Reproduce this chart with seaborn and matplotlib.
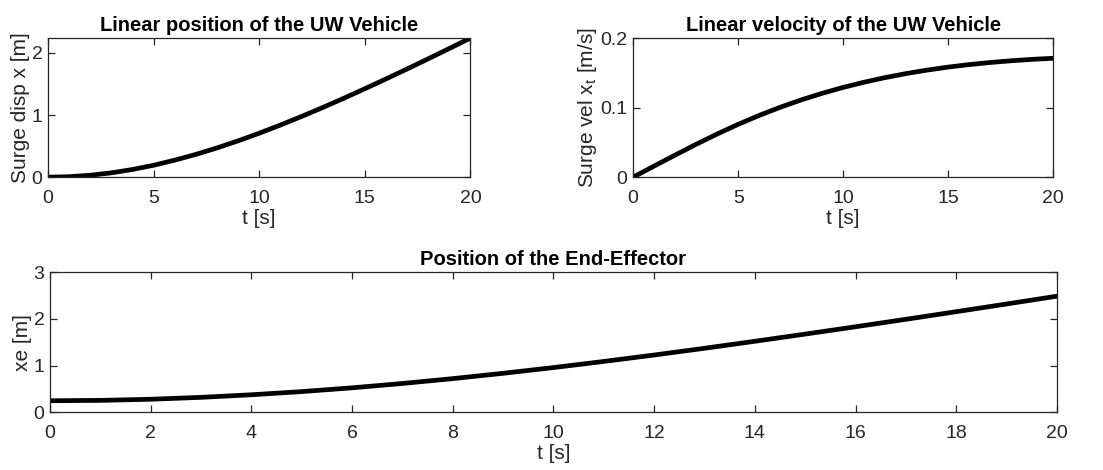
import numpy as np
import pandas as pd
import matplotlib
matplotlib.use("Agg")
import matplotlib.pyplot as plt
import seaborn as sns

# ---- data ----
t = [0, 1, 2, 3, 4, 5, 6, 7, 8, 9, 10, 11, 12, 13, 14, 15, 16, 17, 18, 19, 20]
surge_disp = [0, 0.008, 0.031, 0.070, 0.124, 0.192, 0.274, 0.367, 0.471, 0.585, 0.708,
              0.839, 0.977, 1.121, 1.270, 1.424, 1.582, 1.742, 1.906, 2.072, 2.240]
surge_vel = [0, 0.0160, 0.0318, 0.0473, 0.0621, 0.0760, 0.0888, 0.1005, 0.1111, 0.1206,
             0.1291, 0.1366, 0.1432, 0.1490, 0.1540, 0.1583, 0.1619, 0.1649, 0.1674,
             0.1694, 0.1710]
xe = [0.245, 0.253, 0.277, 0.318, 0.373, 0.441, 0.522, 0.615, 0.719, 0.833, 0.956,
      1.087, 1.225, 1.369, 1.519, 1.673, 1.830, 1.990, 2.153, 2.318, 2.485]

titles = ["Linear position of the UW Vehicle", "Linear velocity of the UW Vehicle",
          "Position of the End-Effector"]
ylabels = ["Surge disp x [m]", r"Surge vel x$_\mathregular{t}$ [m/s]", "xe [m]"]
xlabel = "t [s]"

sns.set_style("ticks")
plt.rcParams['font.family'] = ['Liberation Sans', 'DejaVu Sans']
plt.rcParams['mathtext.fontset'] = 'custom'
plt.rcParams['mathtext.rm'] = 'Liberation Sans'
plt.rcParams['mathtext.it'] = 'Liberation Sans'

ax_col = '#262626'
txt_col = '#262626'

fig = plt.figure(figsize=(11.03, 4.70), dpi=100)
ax1 = fig.add_axes([0.0435, 0.623, 0.383, 0.296])
ax2 = fig.add_axes([0.574, 0.623, 0.381, 0.296])
ax3 = fig.add_axes([0.0453, 0.123, 0.913, 0.298])

df = pd.DataFrame({"t": t, "x": surge_disp, "v": surge_vel, "xe": xe})

kw = dict(color="black", linewidth=3.4, solid_joinstyle='round', solid_capstyle='round')
sns.lineplot(data=df, x="t", y="x", ax=ax1, **kw)
sns.lineplot(data=df, x="t", y="v", ax=ax2, **kw)
sns.lineplot(data=df, x="t", y="xe", ax=ax3, **kw)

ax1.set_xlim(0, 20); ax1.set_ylim(0, 2.24)
ax1.set_xticks([0, 5, 10, 15, 20]); ax1.set_yticks([0, 1, 2])
ax2.set_xlim(0, 20); ax2.set_ylim(0, 0.2)
ax2.set_xticks([0, 5, 10, 15, 20]); ax2.set_yticks([0, 0.1, 0.2])
ax2.set_yticklabels(["0", "0.1", "0.2"])
ax3.set_xlim(0, 20); ax3.set_ylim(0, 3)
ax3.set_xticks(list(range(0, 21, 2))); ax3.set_yticks([0, 1, 2, 3])

for ax, ti, yl in zip([ax1, ax2, ax3], titles, ylabels):
    ax.set_title(ti, fontsize=14.5, fontweight='bold', color='black', pad=5)
    ax.set_xlabel(xlabel, fontsize=15, color=txt_col, labelpad=2)
    ax.set_ylabel(yl, fontsize=15, color=txt_col, labelpad=1)
    for s in ax.spines.values():
        s.set_visible(True)
        s.set_color(ax_col)
        s.set_linewidth(0.9)
    ax.tick_params(direction='in', length=5, width=0.9, top=True, right=True,
                   labelsize=14, colors=txt_col)
    ax.tick_params(axis='x', pad=9)
    ax.tick_params(axis='y', pad=4)

fig.savefig("out.png", dpi=100)
